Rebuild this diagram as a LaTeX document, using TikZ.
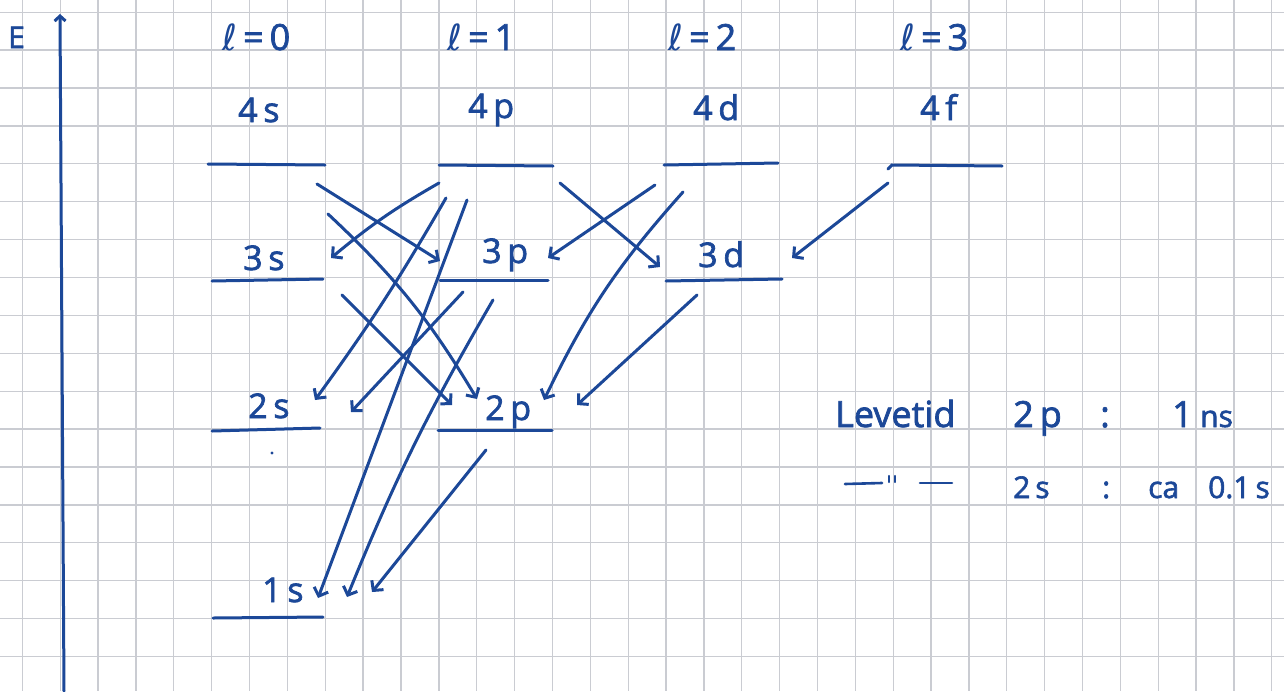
\documentclass[tikz,border=0pt]{standalone}
\usepackage{fontspec}
\setmainfont{Open Sans}[FakeBold=2]
\newfontfamily\ellfont{DejaVu Sans}
\usetikzlibrary{arrows.meta}
\definecolor{inkc}{RGB}{28,72,152}
\definecolor{gridc}{RGB}{202,204,210}
\begin{document}
\begin{tikzpicture}[x=1pt,y=-1pt,
  lvl/.style={draw=inkc, line width=3pt, line cap=round},
  tr/.style={draw=inkc, line width=3pt, line cap=round, line join=round,
    -{Straight Barb[length=7pt,width=15pt]}},
  lab/.style={text=inkc, font=\fontsize{34}{34}\selectfont, inner sep=0pt, anchor=base west},
  big/.style={text=inkc, font=\fontsize{36}{36}\selectfont, inner sep=0pt, anchor=base west},
  sml/.style={text=inkc, font=\fontsize{30}{30}\selectfont, inner sep=0pt, anchor=base west},
]
\useasboundingbox (0,0) rectangle (1284,691);
\fill[white] (0,0) rectangle (1284,691);
% grid paper
\foreach \i in {-5,...,28} \draw[gridc, line width=1.3pt] ({211.7+37.86*\i},0) -- ({211.7+37.86*\i},691);
\foreach \j in {-5,...,12} \draw[gridc, line width=1.3pt] (0,{201.7+37.9*\j}) -- (1284,{201.7+37.9*\j});

% column headers
\node[big] (l0) at (222,50) {{\ellfont ℓ}\,=\,0};
\node[big] (l1) at (447,50) {{\ellfont ℓ}\,=\,1};
\node[big] (l2) at (668,50) {{\ellfont ℓ}\,=\,2};
\node[big] (l3) at (900,50) {{\ellfont ℓ}\,=\,3};

% levels
\draw[lvl] (208,164) -- (325,165);
\draw[lvl] (439,165) -- (553,166);
\draw[lvl] (664,165) -- (778,163);
\draw[lvl] (888,169) -- (892,165) -- (1002,166);
\draw[lvl] (212,281) -- (323,279);
\draw[lvl] (440,280) -- (548,280);
\draw[lvl] (666,281) -- (782,279);
\draw[lvl] (212,431) -- (320,428);
\draw[lvl] (438,430) -- (552,430);
\draw[lvl] (213,618) -- (323,617);
\fill[inkc] (272,453) circle (1.6);

% level labels
\node[lab] (n4s) at (238,122) {4\,s};
\node[lab] (n4p) at (468,118) {4\,p};
\node[lab] (n4d) at (693,120) {4\,d};
\node[lab] (n4f) at (920,120) {4\,f};
\node[lab] (n3s) at (243,270) {3\,s};
\node[lab] (n3p) at (482,263) {3\,p};
\node[lab] (n3d) at (698,267) {3\,d};
\node[lab] (n2s) at (248,418) {2\,s};
\node[lab] (n2p) at (485,420) {2\,p};
\node[lab] (n1s) at (262,602) {1\,s};

% transitions
\coordinate (a1s) at (317,184); \coordinate (a1e) at (440,261);
\coordinate (a2s) at (328,214); \coordinate (a2e) at (477,399);
\coordinate (a3s) at (439,183); \coordinate (a3e) at (331,258);
\coordinate (a4s) at (446,198); \coordinate (a4e) at (315,400);
\coordinate (a5s) at (467,200); \coordinate (a5e) at (318,598);
\coordinate (a6s) at (342,295); \coordinate (a6e) at (452,405);
\coordinate (a7s) at (463,292); \coordinate (a7e) at (351,412);
\coordinate (a8s) at (493,300); \coordinate (a8e) at (347,597);
\coordinate (a9s) at (486,450); \coordinate (a9e) at (372,592);
\coordinate (a10s) at (560,183); \coordinate (a10e) at (660,267);
\coordinate (a11s) at (655,185); \coordinate (a11e) at (548,258);
\coordinate (a12s) at (683,192); \coordinate (a12e) at (544,400);
\coordinate (a13s) at (697,295); \coordinate (a13e) at (577,405);
\coordinate (a14s) at (888,183); \coordinate (a14e) at (792,258);
\draw[tr] (a1s) -- (a1e);
\draw[tr] (a2s) to[bend left=8] (a2e);
\draw[tr] (a3s) to[bend right=5] (a3e);
\draw[tr] (a4s) to[bend left=3] (a4e);
\draw[tr] (a5s) -- (a5e);
\draw[tr] (a6s) -- (a6e);
\draw[tr] (a7s) -- (a7e);
\draw[tr] (a8s) to[bend right=4] (a8e);
\draw[tr] (a9s) -- (a9e);
\draw[tr] (a10s) -- (a10e);
\draw[tr] (a11s) -- (a11e);
\draw[tr] (a12s) to[bend right=8] (a12e);
\draw[tr] (a13s) -- (a13e);
\draw[tr] (a14s) -- (a14e);

% lifetimes
\node[big] (lev) at (835,427) {Levetid};
\node[big] (r1a) at (1013,427) {2\,p};
\node[big] (r1b) at (1100,427) {:};
\node[big] (r1c) at (1172,427) {1};
\node[sml] (r1d) at (1200,427) {ns};
\draw[lvl, line width=2.6pt] (845,484) -- (882,483);
\draw[lvl, line width=2.4pt] (889,476) -- (889,482);
\draw[lvl, line width=2.4pt] (895,476) -- (895,482);
\draw[lvl, line width=2.6pt] (920,483) -- (952,483);
\node[sml] (r2a) at (1013,498) {2\,s};
\node[sml] (r2b) at (1102,498) {:};
\node[sml] (r2c) at (1148,498) {ca};
\node[sml] (r2d) at (1208,498) {0.1\,s};

% energy axis
\coordinate (axb) at (64,691);
\coordinate (axt) at (60,14);
\draw[tr, -{Straight Barb[length=5pt,width=11pt]}] (axb) -- (axt);
\node[sml] (E) at (8,48) {E};
\end{tikzpicture}
\end{document}
